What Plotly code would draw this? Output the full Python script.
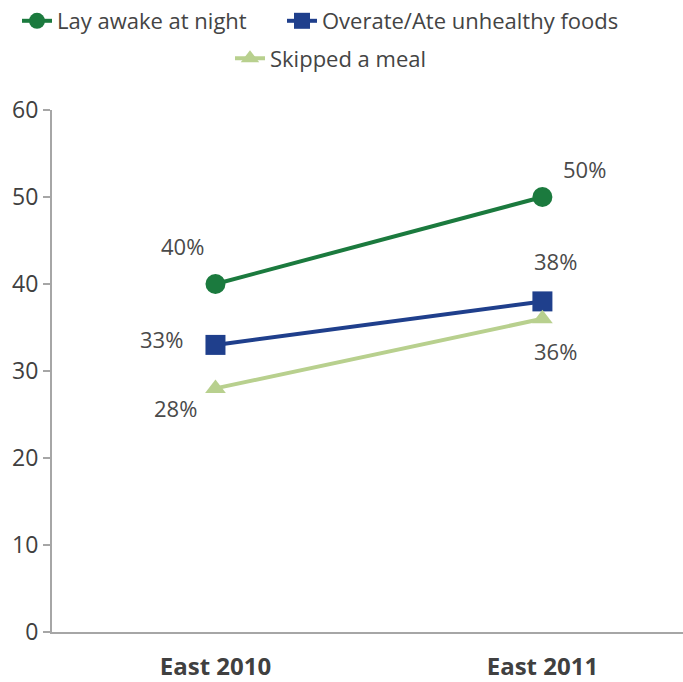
import plotly.graph_objects as go

categories = ["East 2010", "East 2011"]
lay_awake = [40, 50]
overate = [33, 38]
skipped = [28, 36]

series_names = ["Lay awake at night", "Overate/Ate unhealthy foods", "Skipped a meal"]
series_values = [lay_awake, overate, skipped]
colors = ["#1b7a3e", "#1f3f8c", "#b8d08e"]
symbols = ["circle", "square", "triangle-up"]
marker_sizes = [20, 20, 18]
legend_ids = ["legend", "legend2", "legend3"]

# label offsets (pixels) per series, per category
label_offsets = [
    [(-33, 38), (42, 28)],
    [(-54, 6), (13, 40)],
    [(-40, -20), (13, -32)],
]

FONT = "Open Sans"

fig = go.Figure()
for name, vals, col, sym, ms, lg in zip(series_names, series_values, colors, symbols, marker_sizes, legend_ids):
    fig.add_trace(go.Scatter(
        x=[0, 1], y=vals, name=name, mode="lines+markers",
        line=dict(color=col, width=4),
        marker=dict(symbol=sym, size=ms, color=col),
        legend=lg,
    ))

annotations = []
for vals, offs in zip(series_values, label_offsets):
    for i, (v, (dx, dy)) in enumerate(zip(vals, offs)):
        annotations.append(dict(
            x=i, y=v, xref="x", yref="y", text=f"{v}%", showarrow=False,
            xshift=dx, yshift=dy,
            font=dict(size=22, color="#4a4a4a", family=FONT),
        ))

legend_font = dict(size=22, color="#444444", family=FONT)
legend_common = dict(orientation="h", xanchor="left", yanchor="top",
                     xref="container", yref="container", font=legend_font)

fig.update_layout(
    width=683, height=682,
    margin=dict(l=52, r=0, t=110, b=50),
    paper_bgcolor="white", plot_bgcolor="white",
    font=dict(family=FONT, color="#444444"),
    showlegend=True,
    legend=dict(x=17 / 683, y=1.0, **legend_common),
    legend2=dict(x=282 / 683, y=1.0, **legend_common),
    legend3=dict(x=230 / 683, y=0.945, **legend_common),
    annotations=annotations,
    xaxis=dict(
        range=[-0.5, 1.43], tickmode="array", tickvals=[0, 1], ticktext=[f"<b>{c}</b>" for c in categories],
        showline=True, linecolor="#a6a6a6", linewidth=2, ticks="", showgrid=False, zeroline=False,
        tickfont=dict(size=24, color="#404040", family=FONT), ticklabelstandoff=12,
    ),
    yaxis=dict(
        range=[0, 60], tickvals=[0, 10, 20, 30, 40, 50, 60],
        showline=True, linecolor="#a6a6a6", linewidth=2, ticks="outside", ticklen=7,
        tickcolor="#a6a6a6", tickwidth=2, showgrid=False, zeroline=False,
        tickfont=dict(size=23, color="#404040", family=FONT),
    ),
)

fig.write_html("out.html")
